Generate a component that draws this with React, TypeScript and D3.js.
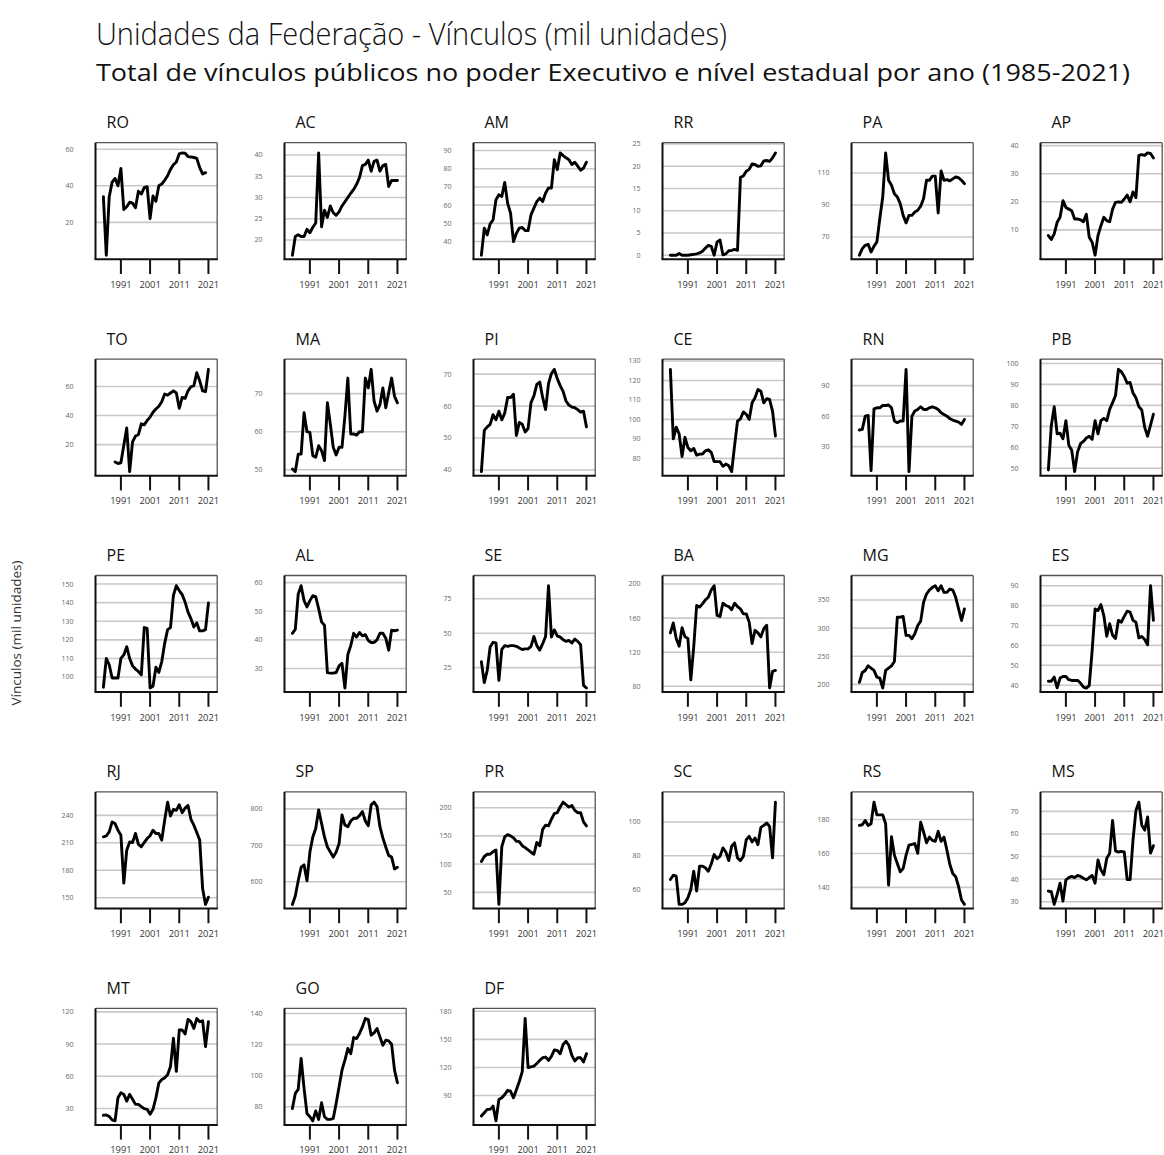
import React from "react";
import * as d3 from "d3";

// ---------- data (mil unidades) ----------
const years = [1991, 2001, 2011, 2021];

const RO = [34, 2, 34, 42, 44, 40, 49.5, 27, 28.5, 31, 30.5, 28, 37, 35.5, 39, 39.5, 22, 34.5, 31.5, 40, 41, 43, 45.5, 49, 51.5, 53, 57.5, 58, 57.8, 56, 55.8, 55.5, 55, 50, 46.5, 47.2];
const AC = [16.4, 20.8, 21.2, 20.8, 20.8, 22.5, 21.7, 23, 24, 40.5, 23.1, 27, 25.3, 28, 26.4, 25.8, 26.6, 28, 29, 30, 31, 31.9, 33.1, 34.7, 37.5, 37.8, 38.8, 36.2, 38.5, 38.8, 36.2, 37.5, 37.8, 32.6, 34, 34, 34];
const AM = [32.5, 47.4, 43.7, 49.7, 51.9, 63, 65.7, 64.8, 72.5, 61, 55.6, 40, 44.6, 47.4, 47.7, 46.1, 46, 54.7, 58.4, 62, 63.9, 62, 66.7, 69.4, 69.4, 85, 79.5, 88.7, 87.2, 86, 85, 82.3, 83.6, 81.4, 79.2, 80.4, 83.6];
const RR = [0, 0, 0, 0.4, 0, 0, 0, 0.1, 0.2, 0.3, 0.5, 0.9, 1.6, 2.2, 2.0, 0, 3.0, 3.4, 0.1, 0.3, 1.0, 1.1, 1.3, 1.1, 17.5, 17.8, 18.9, 19.3, 20.5, 20.4, 20, 20.1, 21.2, 21.3, 21.1, 21.9, 23];
const PA = [58.6, 62.7, 64.8, 65.4, 60.6, 64.2, 66.9, 81.5, 95, 122.5, 105.4, 102.3, 97, 95, 90.8, 83.5, 78.8, 83.5, 83.5, 85.6, 86.7, 89.2, 94, 105.4, 105.4, 108, 108, 85, 111.2, 105.4, 105.8, 105, 106.3, 107.5, 107, 105.4, 103.3];
const AP = [8, 6.6, 8.6, 12.7, 14.5, 20.4, 18, 17.4, 16.8, 13.9, 13.9, 13.6, 12.9, 15.6, 7.4, 5.6, 1, 8, 11.5, 14.5, 13.3, 12.9, 17.4, 19.8, 20, 19.8, 21, 22.4, 20, 23.5, 21.5, 36.5, 36.8, 36.5, 37.4, 37.2, 35.6];
const TO = [8, 7, 7.5, 19.5, 31.4, 1.4, 21.8, 25.9, 26.8, 34.3, 33.6, 36.6, 38.9, 42.3, 44.5, 46.4, 49.5, 54.8, 54, 55.5, 57, 55.5, 45, 52.5, 51.8, 57, 59.8, 60.5, 69.5, 63.9, 57, 56.4, 71.8];
const MA = [50.2, 49.5, 54.1, 54.1, 65, 60, 59.8, 53.7, 53.3, 56.3, 55, 52.4, 67.6, 62, 55.9, 53.9, 55.9, 55.9, 64.1, 74.1, 59.4, 59.4, 59.1, 60, 60, 74.1, 71.5, 76.4, 68, 65.4, 67.1, 71.5, 66.3, 70.2, 74.1, 69.3, 67.6];
const PI = [39.5, 52.4, 53.5, 54.3, 57.3, 55.7, 58.4, 55.7, 57.8, 62.7, 62.7, 63.7, 50.8, 54.9, 54.3, 51.9, 53, 61.1, 63.2, 66.8, 67.5, 62.7, 58.9, 67, 70.2, 71.5, 68.6, 66.4, 64.6, 61.6, 60.3, 59.7, 59.5, 58.9, 58.1, 58.4, 53.5];
const CE = [125.7, 90, 96, 92.6, 80.9, 90.8, 85.6, 83.9, 85.1, 81.7, 82.2, 82.2, 83.9, 84.4, 83.1, 78.3, 78.3, 78.3, 75.9, 77.1, 76.2, 73.2, 86.5, 99.1, 100.3, 103.8, 102.6, 100, 108.5, 111.1, 115.4, 114.5, 108.5, 110.6, 110.2, 104.3, 91.5];
const RN = [46.4, 47, 60, 60.7, 6.5, 67.2, 68.2, 68.2, 70.5, 70.5, 71, 68.2, 55.2, 53.6, 55.2, 55.2, 106, 5.5, 60, 65, 66.6, 69.2, 66.6, 66.6, 68.2, 69.2, 68.2, 66.6, 63.3, 61.7, 60, 57.5, 56.2, 55.2, 54.2, 51.9, 56.8];
const PB = [49.2, 70.3, 79.4, 66.4, 66.7, 64.1, 72.7, 61, 58.6, 48.4, 57.8, 61.7, 62.8, 64.4, 65.3, 63.8, 72.7, 66.4, 72.7, 73.8, 72.7, 78.1, 81.3, 84.7, 97.2, 96.1, 93.8, 90.6, 90.9, 85.9, 83.6, 79.4, 77.8, 69.5, 65.3, 70.6, 75.8];
const PE = [94.5, 110, 106.6, 99.5, 99.5, 99.5, 110, 111.9, 116.3, 110, 106, 104.3, 103, 101.2, 126.6, 126.1, 94.1, 95, 105.3, 102.5, 108.3, 118.1, 125.5, 126.6, 143.9, 149.1, 146.5, 144.3, 140.3, 134.9, 131.4, 126.9, 129.1, 124.8, 124.8, 125.5, 139.8];
const AL = [42.3, 43.7, 56, 58.9, 53.7, 51.5, 53.7, 55.4, 55.1, 50.9, 46.3, 45.1, 28.6, 28.4, 28.4, 28.6, 30.9, 31.8, 23.2, 34.9, 38, 42.3, 41, 42.6, 41.4, 41.8, 39.8, 39.1, 39.1, 40, 42.3, 42.3, 40.6, 36.4, 43.4, 43.2, 43.4];
const SE = [29.3, 14.1, 22.9, 40, 43.4, 43, 15.8, 38.2, 41, 40.5, 41, 41, 40.5, 39.3, 38.2, 38.6, 38.6, 40.5, 47.6, 41, 37.7, 42.4, 47.6, 84.5, 47.2, 52.4, 48.1, 47.2, 45.3, 44.1, 44.8, 42.9, 45.7, 44.1, 41.7, 12.1, 10.2];
const BA = [142.6, 154.3, 136, 127.1, 148.8, 138, 136, 87.6, 126.4, 174.8, 172.9, 176.7, 181.4, 184.5, 193, 198, 163.1, 161.9, 177.5, 174.8, 173.6, 169.8, 177.5, 173.6, 170.9, 165, 165, 155.3, 130.2, 145.7, 142.6, 138, 147.6, 151.6, 78, 97.4, 98.6];
const MG = [203.5, 221, 224.7, 232.9, 228.8, 224.7, 213, 211.2, 193.5, 224.7, 228.8, 232.9, 240.6, 319.4, 319.4, 320.6, 287, 287, 281.2, 290, 304.7, 312.4, 345.9, 360.6, 367.6, 372.4, 375.3, 366.5, 375.3, 363.5, 363.5, 369.4, 367.6, 354.7, 334.1, 313.5, 334.1];
const ES = [42, 42, 44.1, 38.7, 43.6, 44.4, 44.4, 42.8, 42.4, 42.4, 42.4, 41.1, 39.1, 38.6, 39.8, 57.5, 78.3, 77.5, 80.5, 75, 64.6, 70.9, 65.1, 63.5, 72.6, 71.7, 74.6, 77.2, 76.7, 72.6, 71.7, 63.8, 64.5, 63, 60.3, 90, 72.6];
const RJ = [216.6, 217.7, 222, 232.8, 231, 223.8, 218.4, 166, 202, 211, 210.4, 220.2, 208.2, 205.7, 210.4, 214.7, 217.7, 223.8, 220.2, 220.2, 213, 234.6, 254.4, 239.3, 246.5, 245.4, 251.5, 242.9, 247.9, 250.8, 235.7, 229.2, 221.3, 213, 160.1, 142.8, 150.7];
const SP = [537.9, 561, 602.8, 640, 646.3, 602.8, 681.5, 723, 746.3, 797.2, 760.2, 723, 695.4, 681.5, 667.6, 681.5, 704.6, 783.3, 755.6, 751, 766.7, 774.1, 774.1, 781.5, 792.6, 766.7, 753.7, 811.1, 818.5, 806.5, 751, 720.4, 695.4, 672.2, 667.6, 635.2, 639.8];
const PR = [104.7, 113.5, 117.5, 117.5, 122.2, 125.1, 28.6, 130.9, 148.2, 152.3, 150, 146.5, 140.6, 139.8, 132.7, 129.2, 125.1, 121.1, 117.5, 138.6, 132.7, 161.7, 169, 167.8, 179.5, 189.5, 191.2, 201.2, 209.9, 205.3, 201.2, 204.1, 195.3, 191.2, 191.2, 174.9, 167.8];
const SC = [65.9, 68.4, 67.9, 51.1, 51.1, 52.1, 55, 60, 70.8, 59, 73.8, 73.8, 72.8, 70.8, 75.1, 80.7, 78.2, 79.6, 84.6, 82.2, 77.1, 85.6, 87.6, 78.7, 77.1, 79.6, 89.5, 91.5, 88.2, 90.5, 86.6, 96.8, 98, 99.4, 97.4, 78.7, 111.8];
const RS = [176.5, 176.9, 179.4, 176.5, 177.5, 190.2, 182.7, 182.7, 182.7, 177.5, 141.4, 169.8, 159, 154.1, 149.2, 151.1, 159, 164.9, 165.3, 165.8, 160, 178.4, 172.6, 166.3, 169.6, 167.7, 167.1, 173, 167.1, 169.6, 161.9, 153.5, 148.2, 146.3, 140.4, 132.6, 130];
const MS = [34.7, 34.4, 28.8, 33.2, 38.2, 30.3, 39.7, 40.7, 41.2, 40.7, 41.6, 41.2, 40.4, 39.7, 40.7, 41.6, 38.2, 48.5, 44.1, 41.9, 49.2, 51.4, 66, 52.5, 52, 52.3, 52, 39.8, 39.8, 57.3, 70.4, 74.1, 63.9, 61.7, 67.5, 51.5, 54.8];
const MT = [23.7, 24, 22.5, 19.4, 18.5, 40, 44.6, 43.1, 36.9, 43.1, 38.5, 33.8, 33.8, 31.7, 29.8, 29.2, 24.6, 29.2, 40, 53.8, 56.9, 58.5, 61.5, 69.2, 95.4, 64.6, 103.1, 103.1, 99.4, 112.9, 110.8, 104.6, 113.8, 110.8, 111.7, 87.7, 110.8];
const GO = [78.9, 88.6, 91.2, 111.1, 91.8, 75.7, 73.6, 71, 77.4, 71.9, 82.6, 73.6, 71.9, 71.9, 72.5, 82.2, 92.9, 103.6, 110, 117.5, 114.2, 124.6, 123.9, 127.2, 131.4, 136.8, 136.1, 126.1, 127.6, 130.4, 125, 119.6, 122.9, 122.4, 120.3, 103.6, 95.5];
const DF = [68.2, 71.7, 75.2, 75.2, 78.7, 63, 85.8, 87.6, 91.1, 95.6, 94.6, 87.6, 96.3, 105, 115.5, 172.3, 120, 120.7, 121.4, 124.2, 127.6, 130.4, 131.1, 127.6, 131.8, 138.8, 138.1, 134.7, 144.5, 148, 143.5, 133, 127, 130.4, 130.4, 125.9, 134.7];

// y tick labels per state
const ticksRO = [20, 40, 60];
const ticksAC = [20, 25, 30, 35, 40];
const ticksAM = [40, 50, 60, 70, 80, 90];
const ticksRR = [0, 5, 10, 15, 20, 25];
const ticksPA = [70, 90, 110];
const ticksAP = [10, 20, 30, 40];
const ticksTO = [20, 40, 60];
const ticksMA = [50, 60, 70];
const ticksPI = [40, 50, 60, 70];
const ticksCE = [80, 90, 100, 110, 120, 130];
const ticksRN = [30, 60, 90];
const ticksPB = [50, 60, 70, 80, 90, 100];
const ticksPE = [100, 110, 120, 130, 140, 150];
const ticksAL = [30, 40, 50, 60];
const ticksSE = [25, 50, 75];
const ticksBA = [80, 120, 160, 200];
const ticksMG = [200, 250, 300, 350];
const ticksES = [40, 50, 60, 70, 80, 90];
const ticksRJ = [150, 180, 210, 240];
const ticksSP = [600, 700, 800];
const ticksPR = [50, 100, 150, 200];
const ticksSC = [60, 80, 100];
const ticksRS = [140, 160, 180];
const ticksMS = [30, 40, 50, 60, 70];
const ticksMT = [30, 60, 90, 120];
const ticksGO = [80, 100, 120, 140];
const ticksDF = [90, 120, 150, 180];

const states = ["RO", "AC", "AM", "RR", "PA", "AP", "TO", "MA", "PI", "CE", "RN", "PB", "PE", "AL", "SE", "BA", "MG", "ES", "RJ", "SP", "PR", "SC", "RS", "MS", "MT", "GO", "DF"];
const series = [RO, AC, AM, RR, PA, AP, TO, MA, PI, CE, RN, PB, PE, AL, SE, BA, MG, ES, RJ, SP, PR, SC, RS, MS, MT, GO, DF];
const startYears = [1985, 1985, 1985, 1985, 1985, 1985, 1989, 1985, 1985, 1985, 1985, 1985, 1985, 1985, 1985, 1985, 1985, 1985, 1985, 1985, 1985, 1985, 1985, 1985, 1985, 1985, 1985];
const yTicks = [ticksRO, ticksAC, ticksAM, ticksRR, ticksPA, ticksAP, ticksTO, ticksMA, ticksPI, ticksCE, ticksRN, ticksPB, ticksPE, ticksAL, ticksSE, ticksBA, ticksMG, ticksES, ticksRJ, ticksSP, ticksPR, ticksSC, ticksRS, ticksMS, ticksMT, ticksGO, ticksDF];

const TITLE = "Unidades da Federação - Vínculos (mil unidades)";
const SUBTITLE = "Total de vínculos públicos no poder Executivo e nível estadual por ano (1985-2021)";
const YLABEL = "Vínculos (mil unidades)";

// ---------- layout ----------
const W = 1164;
const H = 1155;
const COL0 = 95.5;
const COL_STEP = 189;
const ROW0 = 142.7;
const ROW_STEP = 216.4;
const BOX_W = 121.7;
const BOX_H = 116.6;
const FONT = "'Open Sans', 'DejaVu Sans', sans-serif";

const x = d3.scaleLinear().domain([1982.3, 2024.0]).range([0, BOX_W]);

function Panel({ name, values, start, ticks, col, row }: any) {
  const lo = d3.min(values as number[]) as number;
  const hi = d3.max(values as number[]) as number;
  const r = hi - lo;
  const y = d3.scaleLinear().domain([lo - 0.04 * r, hi + 0.1 * r]).range([BOX_H, 0]);
  const line = d3
    .line<number>()
    .x((_, i) => x(start + i))
    .y((d) => y(d));
  const tx = COL0 + COL_STEP * col;
  const ty = ROW0 + ROW_STEP * row;
  return (
    <g transform={`translate(${tx},${ty})`}>
      <text x={11} y={-14.5} fontSize={16} fontFamily={FONT} fill="#111">
        {name}
      </text>
      {ticks.map((t: number) => (
        <g key={t}>
          <line x1={0} x2={BOX_W} y1={y(t)} y2={y(t)} stroke="#c9c9c9" strokeWidth={1.6} />
          <text
            x={-22}
            y={y(t)}
            dy="0.35em"
            textAnchor="end"
            fontSize={7}
            fontFamily={FONT}
            fill="#666"
          >
            {t}
          </text>
        </g>
      ))}
      <path d={line(values) || ""} fill="none" stroke="#000" strokeWidth={2.9} strokeLinejoin="round" strokeLinecap="round" />
      <line x1={0} x2={BOX_W} y1={0} y2={0} stroke="#555" strokeWidth={1.3} />
      <line x1={BOX_W} x2={BOX_W} y1={0} y2={BOX_H} stroke="#555" strokeWidth={1.3} />
      <line x1={0} x2={0} y1={0} y2={BOX_H} stroke="#111" strokeWidth={2} />
      <line x1={-1} x2={BOX_W + 0.6} y1={BOX_H} y2={BOX_H} stroke="#111" strokeWidth={2} />
      {years.map((yr) => (
        <g key={yr}>
          <line x1={x(yr)} x2={x(yr)} y1={BOX_H} y2={BOX_H + 14.7} stroke="#111" strokeWidth={2} />
          <text x={x(yr)} y={BOX_H + 28.5} textAnchor="middle" fontSize={9.3} fontFamily={FONT} fill="#333">
            {yr}
          </text>
        </g>
      ))}
    </g>
  );
}

export default function App() {
  return (
    <svg width={W} height={H} style={{ position: "absolute", left: 0, top: 0, background: "#fff" }}>
      <rect width={W} height={H} fill="#fff" />
      <text x={96} y={45} fontSize={32} fontWeight={300} fontFamily={FONT} fill="#111" textLength={631} lengthAdjust="spacingAndGlyphs">
        {TITLE}
      </text>
      <text x={96} y={81} fontSize={24} fontFamily={FONT} fill="#111" textLength={1034} lengthAdjust="spacingAndGlyphs">
        {SUBTITLE}
      </text>
      <text
        transform={`translate(21,633) rotate(-90)`}
        textAnchor="middle"
        fontSize={13}
        fontFamily={FONT}
        fill="#333"
        textLength={145}
        lengthAdjust="spacingAndGlyphs"
      >
        {YLABEL}
      </text>
      {states.map((s, i) => (
        <Panel
          key={s}
          name={s}
          values={series[i]}
          start={startYears[i]}
          ticks={yTicks[i]}
          col={i % 6}
          row={Math.floor(i / 6)}
        />
      ))}
    </svg>
  );
}
